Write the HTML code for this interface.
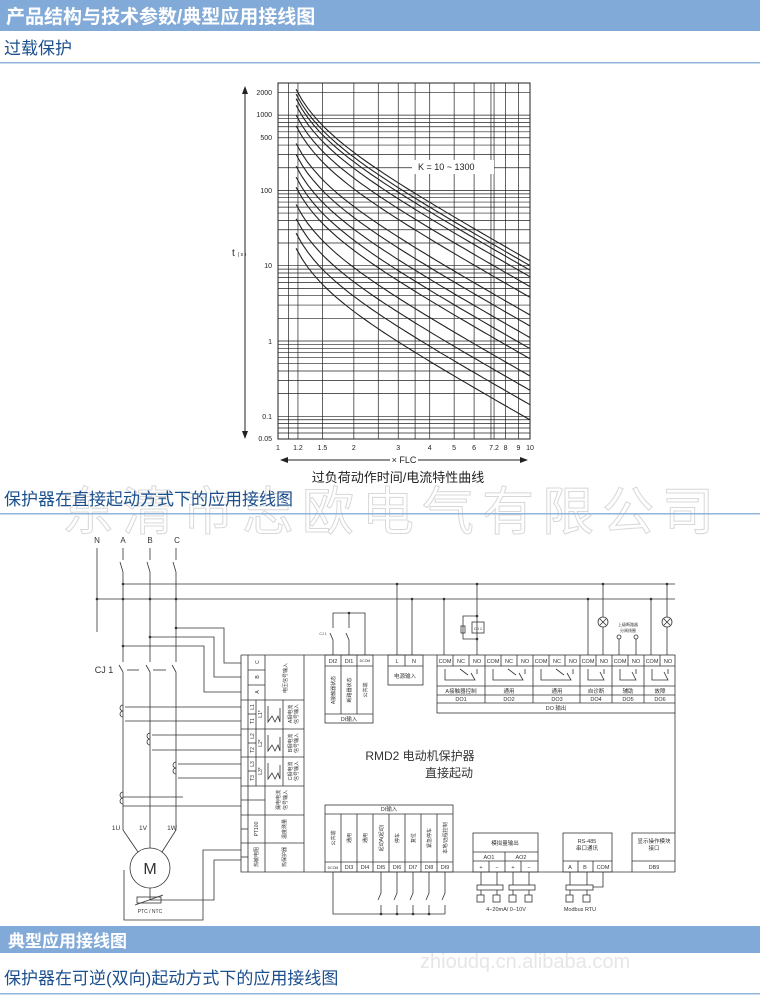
<!DOCTYPE html>
<html><head><meta charset="utf-8"><style>
body{margin:0;background:#fff;width:760px;height:1002px;overflow:hidden;font-family:"Liberation Sans","Noto Sans CJK SC",sans-serif}
svg{display:block}
</style></head><body>
<svg id="s" width="760" height="1002" viewBox="0 0 760 1002" xmlns="http://www.w3.org/2000/svg" font-family="Liberation Sans, Noto Sans CJK SC, sans-serif">
<!-- headers -->
<rect x="0" y="0" width="760" height="31" fill="#82aad8"/>
<text x="6" y="23" font-size="19" font-weight="bold" fill="#fff">产品结构与技术参数/典型应用接线图</text>
<text x="4" y="54" font-size="17" fill="#1b4f8e">过载保护</text>
<rect x="0" y="62" width="760" height="1.5" fill="#8fb4dd"/>

<!-- watermark -->
<text x="62" y="530" font-size="52" fill="none" stroke="#d8d8d8" stroke-width="1" letter-spacing="8">东清市志欧电气有限公司</text>

<text x="4" y="505" font-size="17" fill="#1b4f8e">保护器在直接起动方式下的应用接线图</text>
<rect x="0" y="513" width="760" height="1.5" fill="#8fb4dd"/>

<rect x="0" y="926" width="760" height="27" fill="#82aad8"/>
<text x="8" y="947" font-size="17" font-weight="bold" fill="#fff">典型应用接线图</text>
<text x="420" y="968" font-size="20" fill="#e6e6e6">zhioudq.cn.alibaba.com</text>
<text x="4" y="984" font-size="17" fill="#1b4f8e">保护器在可逆(双向)起动方式下的应用接线图</text>
<rect x="0" y="993" width="760" height="1.5" fill="#8fb4dd"/>

<!-- chart -->
<g id="chart" stroke="#222" fill="none"></g>
<rect x="412" y="160" width="82" height="14" fill="#fff"/>
<text x="418" y="170" font-size="9" fill="#222">K = 10  ~  1300</text>
<g font-size="7" fill="#222" text-anchor="end">
<text x="272" y="95">2000</text><text x="272" y="117">1000</text><text x="272" y="140">500</text>
<text x="272" y="193">100</text><text x="272" y="268">10</text><text x="272" y="344">1</text>
<text x="272" y="419">0.1</text><text x="272" y="441">0.05</text>
</g>
<text x="232" y="256" font-size="10" fill="#222">t <tspan font-size="5">( s )</tspan></text>
<g stroke="#222"><line x1="245" y1="92" x2="245" y2="433"/></g>
<polygon points="245,86 242,94 248,94" fill="#222"/><polygon points="245,439 242,431 248,431" fill="#222"/>
<g font-size="7" fill="#222" text-anchor="middle" id="xl"></g>
<line x1="285" y1="460" x2="390" y2="460" stroke="#222"/><line x1="418" y1="460" x2="522" y2="460" stroke="#222"/>
<polygon points="280,460 288,457 288,463" fill="#222"/><polygon points="528,460 520,457 520,463" fill="#222"/>
<text x="404" y="463" font-size="9" fill="#222" text-anchor="middle">× FLC</text>
<text x="398" y="482" font-size="13" fill="#222" text-anchor="middle">过负荷动作时间/电流特性曲线</text>

<!-- wiring -->
<g stroke="#333" stroke-width="0.8" fill="none">
<!-- sources -->
<line x1="97" y1="548" x2="97" y2="632"/>
<line x1="123" y1="548" x2="123" y2="560"/><line x1="150" y1="548" x2="150" y2="560"/><line x1="176" y1="548" x2="176" y2="560"/>
<line x1="120" y1="562" x2="123" y2="572"/><line x1="147" y1="562" x2="150" y2="572"/><line x1="173" y1="562" x2="176" y2="572"/>
<line x1="123" y1="572" x2="123" y2="662"/><line x1="150" y1="572" x2="150" y2="662"/><line x1="176" y1="572" x2="176" y2="662"/>
<line x1="123" y1="584" x2="675" y2="584"/>
<line x1="97" y1="599" x2="675" y2="599"/>
<!-- contactor -->
<line x1="119" y1="665" x2="123" y2="672"/><line x1="146" y1="665" x2="150" y2="672"/><line x1="172" y1="665" x2="176" y2="672"/>
<line x1="127" y1="670" x2="139" y2="670"/><line x1="153" y1="670" x2="166" y2="670"/>
<line x1="123" y1="672" x2="123" y2="830"/><line x1="150" y1="672" x2="150" y2="848"/><line x1="176" y1="672" x2="176" y2="830"/>
<line x1="123" y1="830" x2="138" y2="852"/><line x1="176" y1="830" x2="162" y2="852"/>
<circle cx="150" cy="868" r="20"/>
<!-- voltage taps -->
<polyline points="176,628 224,628 224,663 241,663"/>
<polyline points="150,637 214,637 214,677 241,677"/>
<polyline points="123,646 204,646 204,692 241,692"/>
<!-- CTs -->
<path d="M123,705 a3,3 0 0 0 0,6 a3,3 0 0 0 0,6"/><polyline points="125,707 241,707"/><polyline points="125,721 241,721"/>
<path d="M150,733 a3,3 0 0 0 0,6 a3,3 0 0 0 0,6"/><polyline points="152,735 241,735"/><polyline points="152,750 241,750"/>
<path d="M176,762 a3,3 0 0 0 0,6 a3,3 0 0 0 0,6"/><polyline points="178,764 241,764"/><polyline points="178,778 241,778"/>
<path d="M123,792 a3,3 0 0 0 0,6 a3,3 0 0 0 0,6"/><line x1="123" y1="797" x2="183" y2="797"/><line x1="123" y1="806" x2="241" y2="806"/>
<!-- thermistor -->
<polyline points="124,870 124,920 203,920 203,850 241,850"/>
<polyline points="150,888 150,900 214,900 214,860 241,860"/>
<rect x="137" y="897" width="24" height="6"/><line x1="135" y1="905" x2="163" y2="895"/>
<!-- main box -->
<polyline points="241,655 241,872 675,872"/>
<line x1="675" y1="713" x2="675" y2="872"/>
<line x1="304" y1="655" x2="304" y2="872"/>
<line x1="241" y1="655" x2="437" y2="655"/>
<line x1="241" y1="700" x2="304" y2="700"/><line x1="241" y1="729" x2="304" y2="729"/><line x1="241" y1="757" x2="304" y2="757"/>
<line x1="241" y1="786" x2="304" y2="786"/><line x1="241" y1="815" x2="304" y2="815"/><line x1="241" y1="843" x2="304" y2="843"/>
<line x1="248" y1="655" x2="248" y2="872"/><line x1="265" y1="655" x2="265" y2="872"/><line x1="283" y1="700" x2="283" y2="786"/>
<line x1="248" y1="670" x2="265" y2="670"/><line x1="248" y1="685" x2="265" y2="685"/>
<line x1="248" y1="714" x2="256" y2="714"/><line x1="248" y1="743" x2="256" y2="743"/><line x1="248" y1="771" x2="256" y2="771"/>
<line x1="256" y1="700" x2="256" y2="786"/>
<line x1="241" y1="800" x2="265" y2="800"/><line x1="241" y1="829" x2="248" y2="829"/><line x1="241" y1="857" x2="248" y2="857"/>
<polyline points="268,706 268,722 272,716 275,722 278,716 280,722 280,708"/>
<polyline points="268,735 268,751 272,745 275,751 278,745 280,751 280,737"/>
<polyline points="268,763 268,779 272,773 275,779 278,773 280,779 280,765"/>
<!-- DI top -->
<rect x="325" y="655" width="48" height="68"/>
<line x1="325" y1="666" x2="373" y2="666"/><line x1="325" y1="714" x2="373" y2="714"/>
<line x1="341" y1="655" x2="341" y2="714"/><line x1="357" y1="655" x2="357" y2="714"/>
<polyline points="333,655 333,640 330,633"/><polyline points="333,628 333,613 365,613 365,655"/>
<polyline points="349,655 349,640 346,633"/><line x1="349" y1="628" x2="349" y2="613"/>
<!-- power -->
<rect x="388" y="655" width="35" height="30"/><line x1="388" y1="666" x2="423" y2="666"/><line x1="405" y1="655" x2="405" y2="666"/>
<line x1="397" y1="584" x2="397" y2="655"/><line x1="412" y1="599" x2="412" y2="655"/>
<!-- DO block -->
<rect x="437" y="655" width="238" height="58"/>
<line x1="437" y1="666" x2="675" y2="666"/><line x1="437" y1="686" x2="675" y2="686"/><line x1="437" y1="695" x2="675" y2="695"/><line x1="437" y1="703" x2="675" y2="703"/>
<line x1="485" y1="655" x2="485" y2="703"/><line x1="533" y1="655" x2="533" y2="703"/><line x1="580" y1="655" x2="580" y2="703"/><line x1="612" y1="655" x2="612" y2="703"/><line x1="644" y1="655" x2="644" y2="703"/>
<line x1="453" y1="655" x2="453" y2="666"/><line x1="469" y1="655" x2="469" y2="666"/>
<line x1="501" y1="655" x2="501" y2="666"/><line x1="517" y1="655" x2="517" y2="666"/>
<line x1="549" y1="655" x2="549" y2="666"/><line x1="565" y1="655" x2="565" y2="666"/>
<line x1="596" y1="655" x2="596" y2="666"/><line x1="628" y1="655" x2="628" y2="666"/><line x1="660" y1="655" x2="660" y2="666"/>
<polyline points="445,669 445,680 475,680 471,673"/><polyline points="460,669 468,675"/><line x1="477" y1="669" x2="477" y2="674"/>
<polyline points="493,669 493,680 523,680 519,673"/><polyline points="508,669 516,675"/><line x1="525" y1="669" x2="525" y2="674"/>
<polyline points="541,669 541,680 571,680 567,673"/><polyline points="556,669 564,675"/><line x1="573" y1="669" x2="573" y2="674"/>
<polyline points="588,669 588,680 604,680 600,672"/><line x1="604" y1="669" x2="604" y2="674"/>
<polyline points="620,669 620,680 636,680 632,672"/><line x1="636" y1="669" x2="636" y2="674"/>
<polyline points="652,669 652,680 668,680 664,672"/><line x1="668" y1="669" x2="668" y2="674"/>
<line x1="444" y1="599" x2="444" y2="655"/>
<line x1="477" y1="584" x2="477" y2="655"/>
<polyline points="477,616 463,616 463,639 477,639"/><rect x="472" y="622" width="12" height="11"/><rect x="461" y="626" width="4" height="7"/>
<line x1="588" y1="599" x2="588" y2="655"/>
<line x1="603" y1="584" x2="603" y2="617"/><circle cx="603" cy="622" r="5"/><line x1="603" y1="627" x2="603" y2="655"/>
<line x1="600" y1="619" x2="606" y2="625"/><line x1="606" y1="619" x2="600" y2="625"/>
<circle cx="619" cy="637" r="2"/><circle cx="636" cy="637" r="2"/><line x1="619" y1="639" x2="619" y2="655"/><line x1="636" y1="639" x2="636" y2="655"/>
<line x1="651" y1="599" x2="651" y2="655"/>
<line x1="667" y1="584" x2="667" y2="617"/><circle cx="667" cy="622" r="5"/><line x1="667" y1="627" x2="667" y2="655"/>
<line x1="664" y1="619" x2="670" y2="625"/><line x1="670" y1="619" x2="664" y2="625"/>
<!-- DI bottom -->
<rect x="325" y="805" width="128" height="67"/>
<line x1="325" y1="814" x2="453" y2="814"/><line x1="325" y1="862" x2="453" y2="862"/>
<line x1="341" y1="814" x2="341" y2="872"/><line x1="357" y1="814" x2="357" y2="872"/><line x1="373" y1="814" x2="373" y2="872"/><line x1="389" y1="814" x2="389" y2="872"/><line x1="405" y1="814" x2="405" y2="872"/><line x1="421" y1="814" x2="421" y2="872"/><line x1="437" y1="814" x2="437" y2="872"/>
<polyline points="333,872 333,914 445,914"/>
<polyline points="381,872 381,893 378,900"/><line x1="381" y1="905" x2="381" y2="914"/>
<polyline points="397,872 397,893 394,900"/><line x1="397" y1="905" x2="397" y2="914"/>
<polyline points="413,872 413,893 410,900"/><line x1="413" y1="905" x2="413" y2="914"/>
<polyline points="429,872 429,893 426,900"/><line x1="429" y1="905" x2="429" y2="914"/>
<polyline points="445,872 445,893 442,900"/><line x1="445" y1="905" x2="445" y2="914"/>
<!-- analog -->
<rect x="473" y="833" width="65" height="39"/><line x1="473" y1="852" x2="538" y2="852"/><line x1="473" y1="861" x2="538" y2="861"/>
<line x1="505" y1="852" x2="505" y2="872"/><line x1="489" y1="861" x2="489" y2="872"/><line x1="521" y1="861" x2="521" y2="872"/>
<line x1="481" y1="872" x2="481" y2="885"/><line x1="497" y1="872" x2="497" y2="885"/><line x1="513" y1="872" x2="513" y2="885"/><line x1="529" y1="872" x2="529" y2="885"/>
<rect x="477" y="885" width="26" height="5"/><rect x="509" y="885" width="26" height="5"/>
<line x1="481" y1="890" x2="481" y2="895"/><line x1="497" y1="890" x2="497" y2="895"/><line x1="513" y1="890" x2="513" y2="895"/><line x1="529" y1="890" x2="529" y2="895"/>
<!-- rs485 -->
<rect x="563" y="833" width="49" height="39"/><line x1="563" y1="861" x2="612" y2="861"/><line x1="578" y1="861" x2="578" y2="872"/><line x1="593" y1="861" x2="593" y2="872"/>
<line x1="570" y1="872" x2="570" y2="885"/><line x1="587" y1="872" x2="587" y2="885"/><polyline points="603,872 603,887 593,887"/>
<rect x="566" y="885" width="27" height="5"/>
<line x1="570" y1="890" x2="570" y2="895"/><line x1="587" y1="890" x2="587" y2="895"/>
<!-- display -->
<polyline points="675,833 632,833 632,872"/><line x1="632" y1="861" x2="675" y2="861"/>
</g>
<g fill="#333">
<circle cx="123" cy="584" r="1.3"/><circle cx="97" cy="599" r="1.3"/><circle cx="123" cy="599" r="1.3"/><circle cx="150" cy="599" r="1.3"/><circle cx="176" cy="599" r="1.3"/>
<circle cx="176" cy="628" r="1.3"/><circle cx="150" cy="637" r="1.3"/><circle cx="123" cy="646" r="1.3"/>
<circle cx="397" cy="584" r="1.3"/><circle cx="477" cy="584" r="1.3"/><circle cx="603" cy="584" r="1.3"/><circle cx="667" cy="584" r="1.3"/>
<circle cx="412" cy="599" r="1.3"/><circle cx="444" cy="599" r="1.3"/><circle cx="588" cy="599" r="1.3"/><circle cx="651" cy="599" r="1.3"/>
<circle cx="477" cy="616" r="1.3"/><circle cx="477" cy="639" r="1.3"/><circle cx="349" cy="613" r="1.3"/>
<circle cx="381" cy="914" r="1.3"/><circle cx="397" cy="914" r="1.3"/><circle cx="413" cy="914" r="1.3"/><circle cx="429" cy="914" r="1.3"/>
</g>
<g fill="none" stroke="#333" stroke-width="0.8">
<rect x="477" y="895" width="7" height="7"/><rect x="493" y="895" width="7" height="7"/><rect x="509" y="895" width="7" height="7"/><rect x="525" y="895" width="7" height="7"/>
<rect x="566" y="895" width="7" height="7"/><rect x="583" y="895" width="7" height="7"/>
</g>
<g font-size="8" fill="#333" text-anchor="middle">
<text x="97" y="543">N</text><text x="123" y="543">A</text><text x="150" y="543">B</text><text x="177" y="543">C</text>
<text x="104" y="673" font-size="9">CJ 1</text>
<text x="116" y="830" font-size="6.5">1U</text><text x="143" y="830" font-size="6.5">1V</text><text x="172" y="830" font-size="6.5">1W</text>
<text x="150" y="874" font-size="16">M</text>
<text x="150" y="913" font-size="5">PTC / NTC</text>
<text x="420" y="760" font-size="12">RMD2  电动机保护器</text>
<text x="449" y="777" font-size="12">直接起动</text>
<g font-size="5.5">
<text x="333" y="663">DI2</text><text x="349" y="663">DI1</text><text x="365" y="662" font-size="3.5">DCOM</text>
<text x="349" y="721">DI输入</text>
<text x="397" y="663">L</text><text x="414" y="663">N</text><text x="405" y="678">电源输入</text>
<text x="445" y="663">COM</text><text x="461" y="663">NC</text><text x="477" y="663">NO</text>
<text x="493" y="663">COM</text><text x="509" y="663">NC</text><text x="525" y="663">NO</text>
<text x="541" y="663">COM</text><text x="557" y="663">NC</text><text x="573" y="663">NO</text>
<text x="588" y="663">COM</text><text x="604" y="663">NO</text><text x="620" y="663">COM</text><text x="636" y="663">NO</text><text x="652" y="663">COM</text><text x="668" y="663">NO</text>
<text x="461" y="693">A接触器控制</text><text x="509" y="693">通用</text><text x="557" y="693">通用</text><text x="596" y="693">自诊断</text><text x="628" y="693">辅助</text><text x="660" y="693">故障</text>
<text x="461" y="701">DO1</text><text x="509" y="701">DO2</text><text x="557" y="701">DO3</text><text x="596" y="701">DO4</text><text x="628" y="701">DO5</text><text x="660" y="701">DO6</text>
<text x="556" y="710">DO 输出</text>
<text x="628" y="626" font-size="4">上级断路器</text><text x="628" y="632" font-size="4">分闸线圈</text>
<text x="478" y="630" font-size="4">CJ 1</text><text x="323" y="635" font-size="3.5">CJ 1</text>
<text x="389" y="811">DI输入</text>
<text x="333" y="869" font-size="3.5">DCOM</text><text x="349" y="869">DI3</text><text x="365" y="869">DI4</text><text x="381" y="869">DI5</text><text x="397" y="869">DI6</text><text x="413" y="869">DI7</text><text x="429" y="869">DI8</text><text x="445" y="869">DI9</text>
<text x="505" y="845">模拟量输出</text><text x="489" y="859">AO1</text><text x="521" y="859">AO2</text>
<text x="481" y="869">+</text><text x="497" y="869">−</text><text x="513" y="869">+</text><text x="529" y="869">−</text>
<text x="506" y="911">4−20mA/  0−10V</text>
<text x="587" y="843">RS-485</text><text x="587" y="850">串口通讯</text>
<text x="570" y="869">A</text><text x="585" y="869">B</text><text x="603" y="869">COM</text>
<text x="580" y="911">Modbus RTU</text>
<text x="654" y="843">显示操作模块</text><text x="654" y="850">接口</text><text x="654" y="869">DB9</text>
</g>
<g font-size="5" text-anchor="middle">
<text transform="translate(259,662) rotate(-90)">C</text><text transform="translate(259,677) rotate(-90)">B</text><text transform="translate(259,692) rotate(-90)">A</text>
<text transform="translate(287,678) rotate(-90)">电压信号输入</text>
<text transform="translate(254,707) rotate(-90)">L1</text><text transform="translate(254,721) rotate(-90)">T1</text><text transform="translate(262,714) rotate(-90)">L1*</text>
<text transform="translate(254,736) rotate(-90)">L2</text><text transform="translate(254,750) rotate(-90)">T2</text><text transform="translate(262,743) rotate(-90)">L2*</text>
<text transform="translate(254,764) rotate(-90)">L3</text><text transform="translate(254,778) rotate(-90)">T3</text><text transform="translate(262,771) rotate(-90)">L3*</text>
<text transform="translate(292,714) rotate(-90)">A相电流</text><text transform="translate(298,714) rotate(-90)">信号输入</text>
<text transform="translate(292,743) rotate(-90)">B相电流</text><text transform="translate(298,743) rotate(-90)">信号输入</text>
<text transform="translate(292,771) rotate(-90)">C相电流</text><text transform="translate(298,771) rotate(-90)">信号输入</text>
<text transform="translate(280,800) rotate(-90)">漏电电流</text><text transform="translate(287,800) rotate(-90)">信号输入</text>
<text transform="translate(258,829) rotate(-90)">PT100</text><text transform="translate(286,829) rotate(-90)">温度测量</text>
<text transform="translate(258,857) rotate(-90)">热敏电阻</text><text transform="translate(286,857) rotate(-90)">热保护器</text>
<text transform="translate(335,690) rotate(-90)">A接触器状态</text><text transform="translate(351,690) rotate(-90)">断路器状态</text><text transform="translate(367,690) rotate(-90)">公共端</text>
<text transform="translate(335,838) rotate(-90)">公共端</text><text transform="translate(351,838) rotate(-90)">通用</text><text transform="translate(367,838) rotate(-90)">通用</text>
<text transform="translate(383,838) rotate(-90)">起动A(起动)</text><text transform="translate(399,838) rotate(-90)">停车</text><text transform="translate(415,838) rotate(-90)">复位</text>
<text transform="translate(431,838) rotate(-90)">紧急停车</text><text transform="translate(447,838) rotate(-90)">本地/远程控制</text>
</g>
</g>
</svg>
<script>
(function(){
var NS="http://www.w3.org/2000/svg",g=document.getElementById("chart"),xl=document.getElementById("xl");
function X(v){return 278+252*Math.log10(v);}
function Y(t){return 341-75.3*Math.log10(t);}
function L(x1,y1,x2,y2,w){var l=document.createElementNS(NS,"line");l.setAttribute("x1",x1);l.setAttribute("y1",y1);l.setAttribute("x2",x2);l.setAttribute("y2",y2);l.setAttribute("stroke-width",w||0.7);g.appendChild(l);}
var r=document.createElementNS(NS,"rect");r.setAttribute("x",278);r.setAttribute("y",83);r.setAttribute("width",252);r.setAttribute("height",356);r.setAttribute("stroke-width",1);g.appendChild(r);
[0.05,0.06,0.07,0.08,0.09,0.1,0.2,0.3,0.4,0.5,0.6,0.7,0.8,0.9,1,2,3,4,5,6,7,8,9,10,20,30,40,50,60,70,80,90,100,200,300,400,500,600,700,800,900,1000,2000].forEach(function(t){var y=Y(t);if(y>83&&y<=439)L(278,y,530,y);});
[1.1,1.2,1.5,2,2.5,3,3.5,4,5,6,7,7.2,8,9].forEach(function(v){L(X(v),83,X(v),439);});
[1,1.2,1.5,2,3,4,5,6,7.2,8,9,10].forEach(function(v){var t=document.createElementNS(NS,"text");t.setAttribute("x",X(v));t.setAttribute("y",450);t.textContent=v;xl.appendChild(t);});
var tops=[2200,1900,1650,1350,1000,720,420,300,210,150,110,65,42,27,17];
var p=Math.log(170)/Math.log(225);
tops.forEach(function(T){var d="";for(var i=0;i<=40;i++){var v=1.18*Math.pow(10/1.18,i/40);var t=T*Math.pow(0.3924/(v*v-1),p);d+=(i?"L":"M")+X(v).toFixed(1)+","+Y(t).toFixed(1);}
var pa=document.createElementNS(NS,"path");pa.setAttribute("d",d);pa.setAttribute("stroke-width",1.1);g.appendChild(pa);});
})();
</script>
</body></html>
